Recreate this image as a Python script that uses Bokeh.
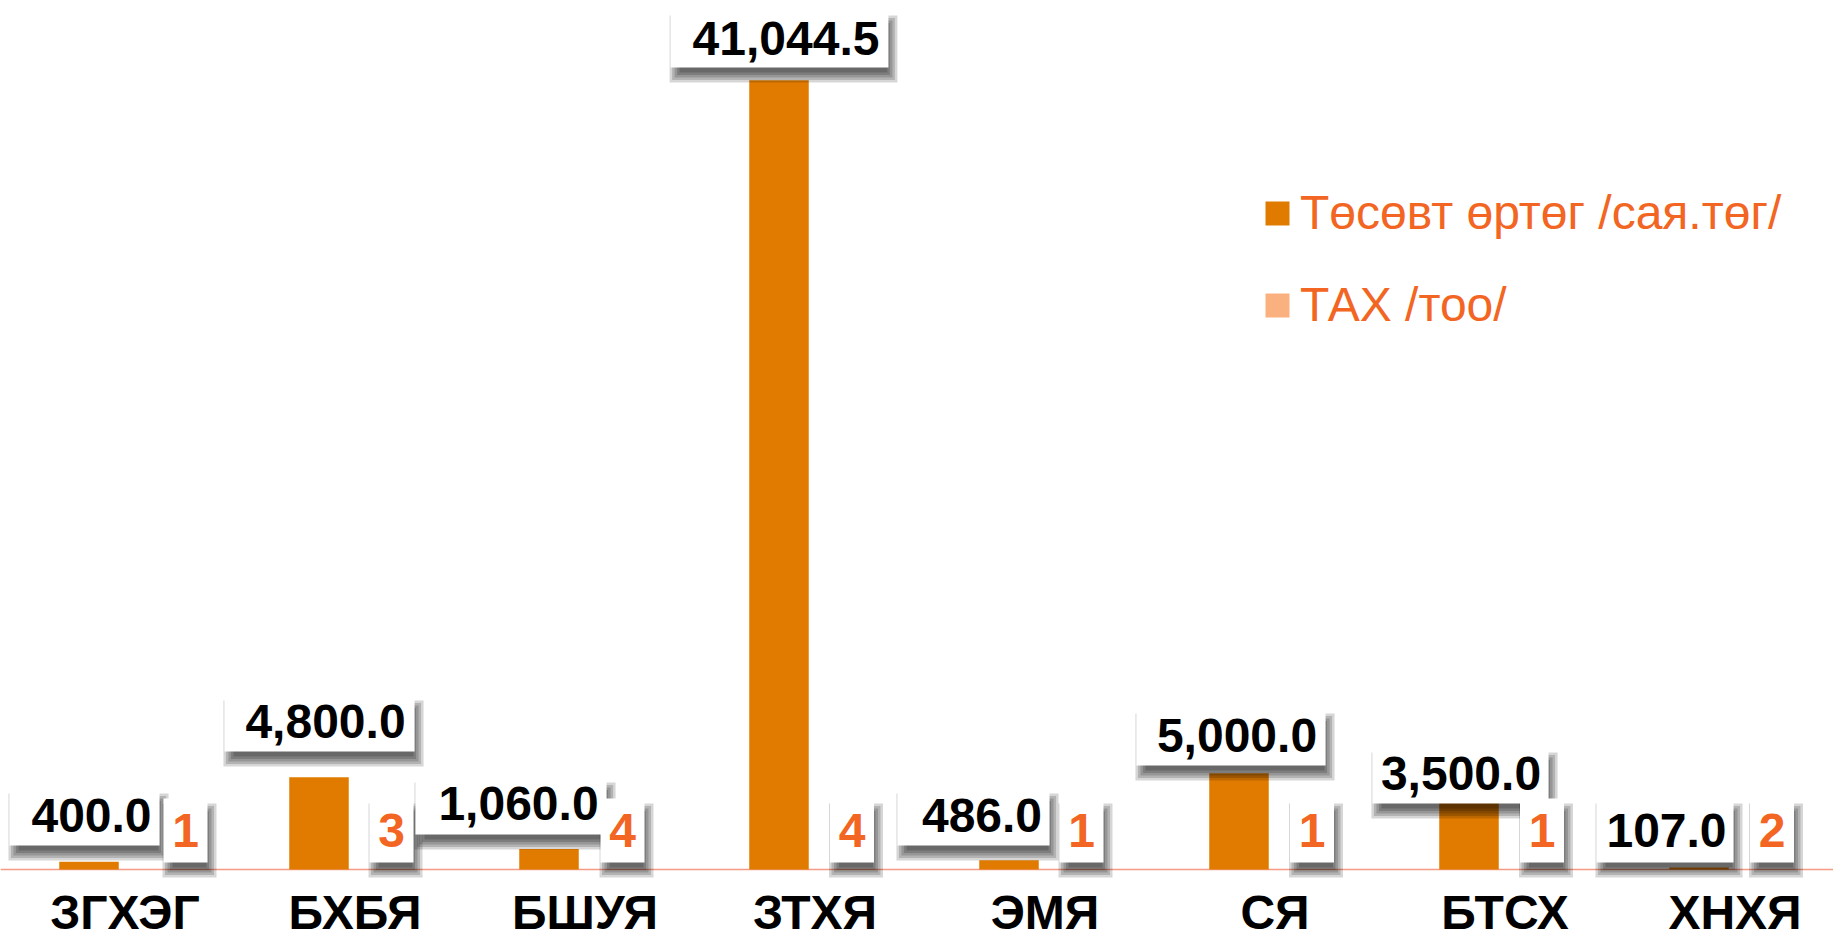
import numpy as np
from bokeh.plotting import figure
from bokeh.models import (ColumnDataSource, Range1d, LinearAxis, FixedTicker,
                          Legend, LegendItem)
from bokeh.transform import dodge
from bokeh.core.properties import value
from bokeh.embed import file_html
from bokeh.resources import INLINE

# ---------------- data ----------------
categories = ["ЗГХЭГ", "БХБЯ", "БШУЯ", "ЗТХЯ", "ЭМЯ", "СЯ", "БТСХ", "ХНХЯ"]
cost = [400.0, 4800.0, 1060.0, 41044.5, 486.0, 5000.0, 3500.0, 107.0]
count = [1, 3, 4, 4, 1, 1, 1, 2]
series_names = ["Төсөвт өртөг /сая.төг/", "ТАХ /тоо/"]

# ---------------- layout (pixels) ----------------
W, H = 1833, 939
CAT_PX = 230.0        # pixels per category
X0_PX = 124.5         # frame x of first category centre
BASE_PX = 869.0       # frame y (from top) of zero line
K = 0.01923           # pixels per value unit

FONT = "Liberation Sans"
BAR_C = "#E07B00"
BAR2_C = "#FBB07F"
RED = "#F26522"
SHADOW_OFF = (4.0, 10.0)
SHADOW_EXP = [-5, -2.5, 0, 2.5, 5]
HALF_CAP = 17.0       # half of the cap height of the 48px labels

# value-label placement (px relative to category centre / bar top)
val_dx = [-33.5, -29.5, -66.5, -29.0, -63.0, -38.0, -44.0, -68.5]
val_rise = [29.3, 38.7, 28.6, 24.7, 27.7, 20.8, 11.7, 19.9]
val_padl = [22, 21, 23, 22, 24.5, 20.5, 8.5, 10]
val_padr = [8, 9, 8, 9, 7.5, 8.5, 7.5, 7]
val_top = [44, 43, 43, 45, 44, 44, 43, 49]
val_bot = [13, 13, 14, 12, 13, 13, 13, 15]
# count-label placement
cnt_dx = [60.5, 36.5, 37.5, 37.0, 36.5, 37.0, 37.0, 37.0]
CNT_W, CNT_TOP, CNT_BOT, CNT_BASE = 44, 71, 7, 22

FS = 48
CHAR_W = {",": 0.278, ".": 0.278}


def text_w(s):
    return sum(CHAR_W.get(ch, 0.556) for ch in s) * FS


def px_x(px):
    return px / CAT_PX


def px_y(px):
    return px / K


idx = list(range(len(categories)))
src = ColumnDataSource(dict(x=idx, cost=cost, count=count))

p = figure(width=W, height=H, output_backend="svg", toolbar_location=None,
           x_axis_type=None, y_axis_type=None,
           x_range=Range1d(-X0_PX / CAT_PX, (W - X0_PX) / CAT_PX),
           y_range=Range1d(-(H - BASE_PX) / K, BASE_PX / K),
           min_border=0, outline_line_color=None)
p.xgrid.visible = False
p.ygrid.visible = False
p.background_fill_color = "white"

# zero line
p.hspan(y=[0], line_color="#F59A85", line_width=1.5)

# bars
bw = 59.5 / CAT_PX
r1 = p.vbar(x=dodge("x", -36 / CAT_PX, range=p.x_range), top="cost", width=bw,
            source=src, fill_color=BAR_C, line_color=None)
r2 = p.vbar(x=dodge("x", 23.5 / CAT_PX, range=p.x_range), top="count", width=bw,
            source=src, fill_color=BAR2_C, line_color=None)

# ---------------- label boxes ----------------
labels = [f"{v:,.1f}" for v in cost]
bx_l, bx_r, bx_t, bx_b = [], [], [], []
tx, ty = [], []
for i, v in enumerate(cost):
    tw = text_w(labels[i])
    cx = i + px_x(val_dx[i])
    by = v + px_y(val_rise[i])          # text baseline
    tx.append(cx)
    ty.append(by + px_y(HALF_CAP))      # middle of the caps
    bx_l.append(cx - px_x(tw / 2 + val_padl[i]))
    bx_r.append(cx + px_x(tw / 2 + val_padr[i]))
    bx_t.append(by + px_y(val_top[i]))
    bx_b.append(by - px_y(val_bot[i]))

c_l, c_r, c_t, c_b, ctx, cty = [], [], [], [], [], []
for i, n in enumerate(count):
    cx = i + px_x(cnt_dx[i])
    ctx.append(cx)
    cty.append(px_y(CNT_BASE + HALF_CAP))
    c_l.append(cx - px_x(CNT_W / 2))
    c_r.append(cx + px_x(CNT_W / 2))
    c_t.append(px_y(CNT_TOP))
    c_b.append(px_y(CNT_BOT))

all_l = bx_l + c_l
all_r = bx_r + c_r
all_t = bx_t + c_t
all_b = bx_b + c_b

# soft drop shadows (layered to imitate blur)
for e in SHADOW_EXP:
    p.quad(left=[l + px_x(SHADOW_OFF[0] - e) for l in all_l],
           right=[r + px_x(SHADOW_OFF[0] + e) for r in all_r],
           top=[t - px_y(SHADOW_OFF[1] - e) for t in all_t],
           bottom=[b - px_y(SHADOW_OFF[1] + e) for b in all_b],
           fill_color="black", fill_alpha=0.16, line_color=None)

p.quad(left=all_l, right=all_r, top=all_t, bottom=all_b,
       fill_color="white", line_color=None)

p.text(x=tx, y=ty, text=labels, text_font=value(FONT), text_font_size=f"{FS}px",
       text_font_style="bold", text_color="black", text_align="center",
       text_baseline="middle")
p.text(x=ctx, y=cty, text=[str(n) for n in count], text_font=value(FONT),
       text_font_size=f"{FS}px", text_font_style="bold", text_color=RED,
       text_align="center", text_baseline="middle")

# category axis drawn at the zero line
xaxis = LinearAxis(ticker=FixedTicker(ticks=idx),
                   major_label_overrides={i: c for i, c in enumerate(categories)},
                   fixed_location=0,
                   axis_line_color=None, major_tick_line_color=None,
                   minor_tick_line_color=None,
                   major_label_text_font=FONT, major_label_text_font_size=f"{FS}px",
                   major_label_text_font_style="bold",
                   major_label_text_color="black",
                   major_label_standoff=10)
p.add_layout(xaxis, "below")

legend = Legend(items=[LegendItem(label=series_names[0], renderers=[r1]),
                       LegendItem(label=series_names[1], renderers=[r2])],
                location=(1262, 607), orientation="vertical",
                glyph_width=30, glyph_height=30, label_standoff=8,
                spacing=37, padding=0, margin=0,
                label_text_font=FONT, label_text_font_size=f"{FS}px",
                label_text_color=RED,
                background_fill_alpha=0, border_line_alpha=0)
p.add_layout(legend)

open("out.html", "w").write(file_html(p, INLINE))
